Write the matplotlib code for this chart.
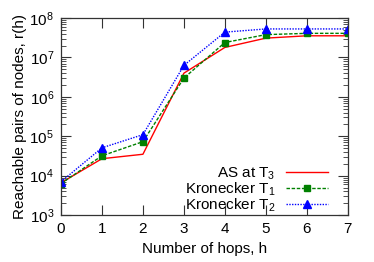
import matplotlib
matplotlib.use("Agg")
import matplotlib.pyplot as plt
from matplotlib.ticker import LogLocator, NullFormatter

plt.rcParams['font.family'] = ['Liberation Sans', 'DejaVu Sans']
plt.rcParams['mathtext.fontset'] = 'custom'
plt.rcParams['mathtext.rm'] = 'Liberation Sans'
plt.rcParams['mathtext.it'] = 'Liberation Sans'

# Values
hops = [0, 1, 2, 3, 4, 5, 6, 7]
as_t3 = [6600, 27000, 35000, 4.0e6, 1.8e7, 3.1e7, 3.55e7, 3.55e7]
kron_t1 = [6300, 32000, 73000, 3.0e6, 2.4e7, 3.8e7, 4.1e7, 4.1e7]
kron_t2 = [7000, 51000, 110000, 6.3e6, 4.4e7, 5.3e7, 5.3e7, 5.3e7]

fig = plt.figure(figsize=(3.74, 2.62), dpi=100)
ax = fig.add_axes([0.163, 0.179, 0.767, 0.752])

ax.plot(hops, as_t3, color='#ff0000', lw=1.0, ls='-', label=r'AS at T$_3$')
ax.plot(hops, kron_t1, color='#008000', lw=1.0, ls=(0, (2.5, 1.2)),
        marker='s', ms=4.8, label=r'Kronecker T$_1$')
ax.plot(hops, kron_t2, color='#0000ff', lw=1.0, ls=(0, (1, 1)),
        marker='^', ms=5.5, label=r'Kronecker T$_2$')

ax.set_yscale('log')
ax.set_xlim(0, 7)
ax.set_ylim(1e3, 1e8)
ax.set_xticks(hops)
ax.yaxis.set_major_locator(LogLocator(base=10, numticks=10))
ax.yaxis.set_minor_locator(LogLocator(base=10, subs=range(2, 10), numticks=20))
ax.yaxis.set_minor_formatter(NullFormatter())

ax.tick_params(which='both', direction='in', top=True, right=True,
               labelsize=11, colors='#333333', labelcolor='black')
ax.tick_params(which='major', length=7, width=0.8, pad=5)
ax.tick_params(which='minor', length=3.5, width=0.6)
for sp in ax.spines.values():
    sp.set_color('#333333')
    sp.set_linewidth(0.9)

ax.set_xlabel('Number of hops, h', fontsize=11, labelpad=4)
ax.set_ylabel('Reachable pairs of nodes, r(h)', fontsize=11, labelpad=2)

ax.legend(loc='lower right', bbox_to_anchor=(0.935, 0.0),
          markerfirst=False, frameon=False, fontsize=11,
          handlelength=2.7, handletextpad=0.7, labelspacing=-0.1,
          borderaxespad=0.0, borderpad=0.1)

fig.savefig('out.png', dpi=100)
